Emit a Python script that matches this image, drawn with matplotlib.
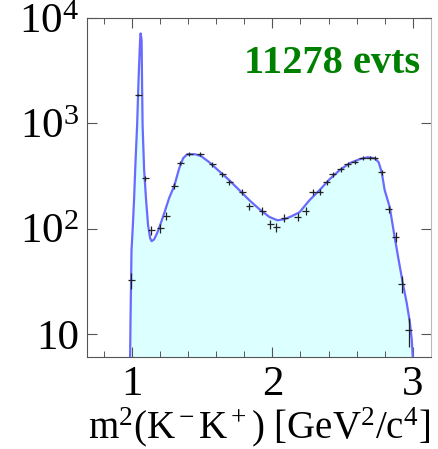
import numpy as np
import matplotlib
matplotlib.use("Agg")
import matplotlib.pyplot as plt
from matplotlib.ticker import FixedLocator, MultipleLocator, LogLocator, NullFormatter

plt.rcParams['font.family'] = ['Liberation Serif', 'DejaVu Serif']
plt.rcParams['mathtext.fontset'] = 'custom'
plt.rcParams['mathtext.rm'] = 'Liberation Serif'
plt.rcParams['mathtext.it'] = 'Liberation Serif:italic'
plt.rcParams['mathtext.bf'] = 'Liberation Serif:bold'

# binned data: m^2(K-K+) bin centres and event counts
m2_bins = [0.993, 1.043, 1.093, 1.136, 1.200, 1.243, 1.300, 1.343, 1.407, 1.486,
           1.571, 1.643, 1.693, 1.786, 1.836, 1.929, 1.986, 2.029, 2.086, 2.179,
           2.236, 2.286, 2.336, 2.386, 2.429, 2.486, 2.536, 2.586, 2.643, 2.693,
           2.729, 2.779, 2.829, 2.879, 2.921, 2.971]
counts = [32.5, 1842, 301, 97, 101, 131, 253, 418, 508, 508,
          409, 329, 276, 222, 163, 147, 110, 103, 126, 129,
          147, 222, 222, 276, 329, 366, 409, 427, 466, 466,
          466, 343, 153, 83, 30, 10.9]
bin_half = 0.025

# fit projection
fit_m2 = [0.986, 0.989, 0.993, 0.996, 1.004, 1.014, 1.025, 1.036, 1.046, 1.057,
          1.061, 1.068, 1.071, 1.075, 1.086, 1.100, 1.114, 1.129, 1.139, 1.157,
          1.179, 1.200, 1.229, 1.264, 1.300, 1.336, 1.364, 1.393, 1.450, 1.493,
          1.550, 1.621, 1.693, 1.764, 1.836, 1.907, 1.979, 2.036, 2.086, 2.136,
          2.193, 2.264, 2.336, 2.407, 2.479, 2.550, 2.621, 2.679, 2.729, 2.757,
          2.779, 2.800, 2.836, 2.871, 2.900, 2.929, 2.957, 2.979, 2.993, 3.000]
fit_val = [6, 13.6, 32.5, 62.5, 97, 186, 446, 957, 2560, 6120,
           7130, 6120, 2560, 957, 359, 186, 108, 81, 76, 79,
           91, 108, 140, 195, 253, 374, 466, 508, 508, 487,
           427, 351, 288, 232, 186, 153, 129, 120, 123, 131,
           143, 186, 232, 294, 359, 418, 456, 476, 466, 427,
           343, 232, 160, 83, 50, 30.4, 19.7, 13.0, 8.8, 6]

n_events = "11278 evts"

fig = plt.figure(figsize=(4.38, 4.49), dpi=100)
ax = fig.add_axes([0.199, 0.205, 0.785, 0.755])

ax.fill_between(fit_m2, 1, fit_val, color='#dcffff', lw=0, zorder=1)
ax.plot(fit_m2, fit_val, color='#6a6aff', lw=1.6, zorder=3)
ax.errorbar(m2_bins, counts, xerr=bin_half, yerr=np.sqrt(counts),
            fmt='none', ecolor='#222222', elinewidth=0.9, capsize=0, zorder=4)

ax.set_yscale('log')
ax.set_xlim(0.68, 3.13)
ax.set_ylim(6.05, 1e4)

ax.yaxis.set_major_locator(FixedLocator([10, 100, 1000, 10000]))
ax.set_yticklabels(['10', r'10$^2$', r'10$^3$', r'10$^4$'])
ax.yaxis.set_minor_locator(LogLocator(base=10, subs=np.arange(2, 10)))
ax.yaxis.set_minor_formatter(NullFormatter())
ax.xaxis.set_major_locator(FixedLocator([1, 2, 3]))
ax.xaxis.set_minor_locator(MultipleLocator(0.2))

ax.tick_params(which='both', direction='in', top=True, right=True,
               labelsize=31, pad=6, color='#555555')
ax.tick_params(which='major', length=7, width=0.8)
ax.tick_params(which='minor', length=4, width=0.7)
for side in ['left', 'bottom', 'top']:
    ax.spines[side].set_color('#555555')
ax.spines['right'].set_color('#bbbbbb')

ax.set_xlabel(r'm$^2$(K$^-$K$^+$) [GeV$^2$/c$^4$]', fontsize=28, labelpad=1)

ax.text(0.968, 0.838, n_events, transform=ax.transAxes, ha='right', va='baseline',
        color='#008000', fontsize=29, fontweight='bold')

fig.savefig('out.png', dpi=100)
